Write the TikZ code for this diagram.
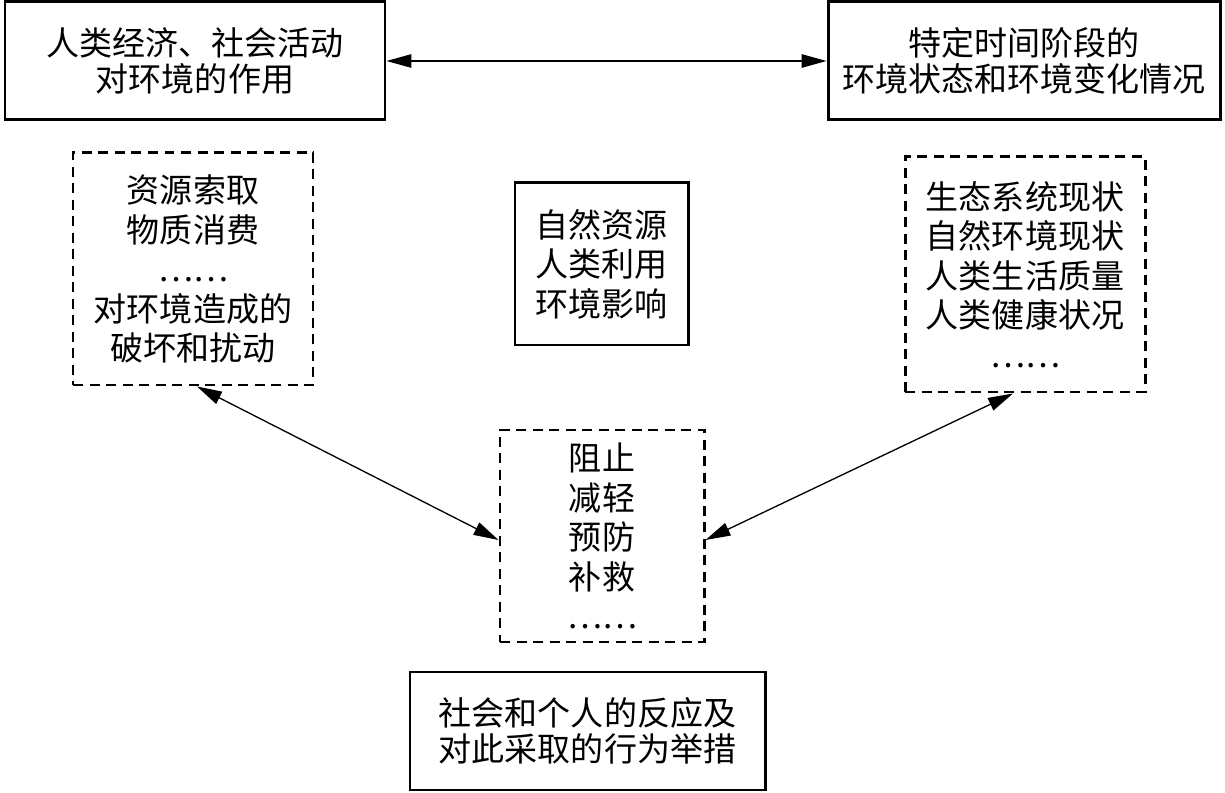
\documentclass[tikz,border=0pt]{standalone}
\usepackage{fontspec}
\usepackage{tikz}
\usetikzlibrary{arrows.meta,calc,positioning}
\newfontfamily\cjk{Noto Sans CJK SC}

\begin{document}
\begin{tikzpicture}[
    solidbox/.style={draw, line width=1.7pt, align=center, inner sep=0pt,
        font=\cjk\fontsize{18.8}{20.5}\selectfont},
    dashbox/.style={draw, line width=1.7pt, dash pattern=on 0.2cm off 0.13cm,
        align=center, inner sep=0pt, font=\cjk\fontsize{18.8}{22.5}\selectfont},
    link/.style={{Triangle[length=0.5cm,width=0.27cm]}-{Triangle[length=0.5cm,width=0.27cm]}, line width=0.75pt}
]
    \useasboundingbox (0,0) rectangle (24.5,-15.86);

    % Top boxes
    \node[solidbox, minimum width=7.6cm, minimum height=2.36cm] (act) at (3.9,-1.22)
        {人类经济、社会活动\\对环境的作用};
    \node[solidbox, minimum width=7.84cm, minimum height=2.36cm] (state) at (20.48,-1.22)
        {特定时间阶段的\\环境状态和环境变化情况};

    % Middle row
    \node[dashbox, minimum width=4.8cm, minimum height=4.64cm] (press) at (3.86,-5.38)
        {资源索取\\物质消费\\……\\对环境造成的\\破坏和扰动};
    \node[solidbox, font=\cjk\fontsize{18.8}{22.5}\selectfont,
        minimum width=3.46cm, minimum height=3.24cm] (core) at (12.03,-5.28)
        {自然资源\\人类利用\\环境影响};
    \node[dashbox, minimum width=4.8cm, minimum height=4.7cm] (stat) at (20.5,-5.49)
        {生态系统现状\\自然环境现状\\人类生活质量\\人类健康状况\\……};

    % Response
    \node[dashbox, minimum width=4.08cm, minimum height=4.24cm] (resp) at (12.04,-10.72)
        {阻止\\减轻\\预防\\补救\\……};
    \node[solidbox, minimum width=7.1cm, minimum height=2.36cm] (soc) at (11.75,-14.62)
        {社会和个人的反应及\\对此采取的行为举措};

    % Connectors
    \draw[link] (act.east) -- (state.west);
    \draw[link] ([xshift=0.08cm]press.south) -- ([yshift=-0.08cm]resp.west);
    \draw[link] ([xshift=-0.24cm]stat.south) -- ([yshift=-0.08cm]resp.east);

\end{tikzpicture}
\end{document}
